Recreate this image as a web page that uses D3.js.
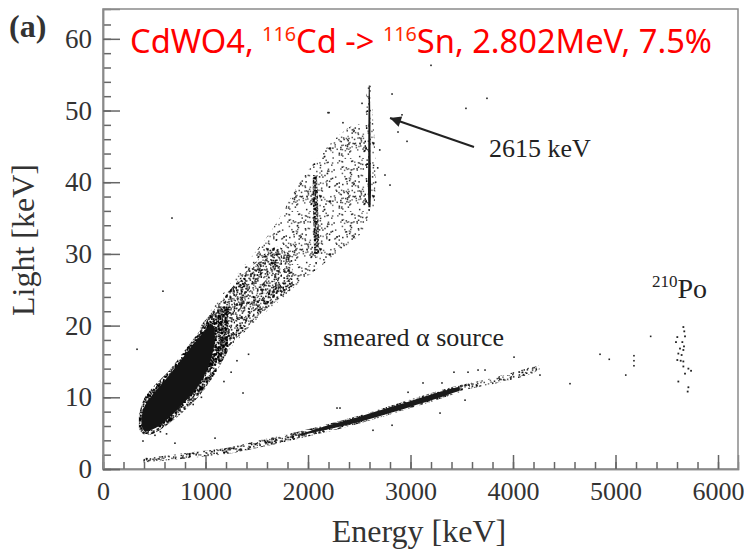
<!DOCTYPE html>
<html><head><meta charset="utf-8">
<script src="https://cdn.jsdelivr.net/npm/d3@7"></script>
<style>body{margin:0;background:#fff}svg{display:block}</style>
</head><body>
<svg id="c" width="744" height="552"></svg>
<script>
// ---------------- data ----------------
const xMajorTicks = [0, 1000, 2000, 3000, 4000, 5000, 6000];
const yMajorTicks = [0, 10, 20, 30, 40, 50, 60];

// gamma/beta band: solid core
const coreE  = [375, 410, 480, 600, 750, 900, 1000, 1060, 1090];
const coreLo = [6.0, 5.3, 5.5, 6.6, 8.7, 11.0, 13.4, 15.6, 17.5];
const coreHi = [7.2, 8.9, 10.3, 12.3, 15.0, 17.7, 19.4, 20.2, 19.6];
// halo around core
const haloCE  = [350, 400, 500, 650, 800, 950, 1100, 1220];
const haloCLo = [5.6, 4.8, 5.0, 6.4, 8.2, 10.4, 13.4, 16.5];
const haloCHi = [7.4, 9.8, 11.6, 13.8, 16.6, 19.4, 22.0, 22.5];
// gamma band: medium density part
const medE  = [950, 1100, 1300, 1500, 1700, 1850];
const medLo = [12.5, 15.0, 18.2, 21.2, 23.5, 25.3];
const medHi = [20.0, 22.5, 26.0, 29.0, 31.0, 29.5];
// gamma band: sparse envelope
const bandE  = [850, 1000, 1100, 1300, 1500, 1700, 1900, 2100, 2300, 2450, 2580];
const bandLo = [11.5, 13.0, 14.5, 17.8, 20.8, 23.2, 25.8, 28.0, 30.3, 32.0, 33.5];
const bandHi = [17.0, 21.0, 23.0, 27.0, 30.5, 34.5, 39.5, 43.5, 46.5, 48.0, 48.0];
// 2103 keV stripe
const stripeL  = [30, 33, 36, 39, 41];
const stripeE0 = [2060, 2055, 2050, 2045, 2050];
const stripeE1 = [2110, 2105, 2100, 2095, 2085];
// 2615 keV line
const lineL  = [36.5, 39, 42, 45, 48, 51, 53.5];
const lineE0 = [2590, 2585, 2587, 2588, 2589, 2591, 2593];
const lineE1 = [2610, 2615, 2612, 2610, 2609, 2606, 2602];
const haloL  = [36, 42, 48, 54];
const haloE0 = [2560, 2555, 2560, 2575];
const haloE1 = [2650, 2660, 2640, 2610];
// smeared alpha source band
const alphaE  = [390, 600, 900, 1240, 1560, 1900, 2215, 2500, 2800, 3000, 3250, 3480];
const alphaLo = [0.9, 1.15, 1.6, 2.15, 3.1, 4.2, 5.25, 6.35, 7.6, 8.5, 9.6, 10.7];
const alphaHi = [1.5, 1.85, 2.4, 3.05, 4.1, 5.2, 6.35, 7.45, 8.8, 9.7, 10.8, 11.7];
const alphaDarkE  = [1900, 2200, 2500, 2800, 3000, 3250, 3480];
const alphaDarkLo = [4.6, 5.55, 6.55, 7.8, 8.7, 9.8, 10.9];
const alphaDarkHi = [4.75, 6.1, 7.3, 8.6, 9.5, 10.6, 11.5];
const tailE  = [3480, 3650, 3850, 4050, 4200, 4260];
const tailLo = [10.9, 11.4, 12.0, 12.7, 13.4, 13.9];
const tailHi = [11.7, 12.2, 12.9, 13.7, 14.3, 14.4];
// isolated events
const outE = [673, 585, 332, 1307, 1366, 478, 507, 390, 702, 1093, 3200, 2820, 3746, 3541, 2917, 2205, 2878, 2966, 2751, 2800, 2195, 2527, 2341,
  4849, 4939, 5180, 5180, 5180, 5100, 4556, 5343, 4010, 3424, 3561, 3659, 3727, 3122, 2976, 3307, 2312, 2283, 2820, 3288, 3532, 2634, 4263,
  1250, 1420, 1180, 880, 960, 620, 560, 2680, 2700, 2660];
const outL = [35.0, 24.8, 16.7, 15.1, 10.6, 5.0, 4.7, 3.9, 3.6, 4.3, 56.3, 52.3, 51.7, 50.3, 49.4, 49.7, 47.0, 45.7, 41.0, 39.6, 49.7, 51.0, 48.3,
  16.0, 15.3, 15.8, 15.1, 14.4, 13.1, 11.9, 18.5, 15.6, 13.5, 13.5, 13.8, 13.8, 12.0, 10.7, 12.0, 8.5, 8.5, 6.1, 7.8, 9.6, 5.4, 13.1,
  13.5, 16.0, 12.2, 9.0, 10.0, 4.9, 5.2, 42.0, 44.5, 40.0];
// 210Po events
const poE = [5662, 5671, 5603, 5678, 5590, 5652, 5668, 5629, 5662, 5613, 5645, 5603, 5636, 5662, 5662, 5711, 5737, 5678, 5613, 5711, 5704];
const poL = [19.8, 19.2, 18.4, 18.5, 17.7, 17.7, 17.1, 16.8, 16.6, 16.1, 15.9, 15.2, 15.1, 15.0, 14.3, 14.0, 13.7, 13.3, 12.2, 11.4, 10.8];

// ---------------- drawing ----------------
const svg = d3.select("#c");
const W = 744, H = 552;
const m = {l: 103, r: 738, t: 9, b: 469};
const x = d3.scaleLinear([0, 6195], [m.l, m.r]);
const y = d3.scaleLinear([0, 64.16], [m.b, m.t]);

const defs = svg.append("defs");
// deterministic speckle texture used to render the dense point clouds as fills
function speck(i, s) { const v = Math.sin(i * 12.9898 + s * 78.233) * 43758.5453; return v - Math.floor(v); }
function pattern(id, tile, n, s, op, seed) {
  const p = defs.append("pattern").attr("id", id).attr("patternUnits", "userSpaceOnUse")
    .attr("width", tile).attr("height", tile);
  for (let i = 1; i <= n; i++) {
    p.append("rect").attr("x", speck(i, seed) * tile).attr("y", speck(i, seed + 0.37) * tile)
      .attr("width", s).attr("height", s).attr("fill", "#000").attr("opacity", op * (0.6 + 0.4 * speck(i, seed + 0.71)));
  }
}
pattern("sparse", 53, 230, 1.5, 0.85, 1.3);
pattern("medium", 47, 420, 1.5, 0.9, 2.7);
pattern("dense", 31, 420, 1.6, 0.95, 4.1);
pattern("alphaP", 43, 520, 1.5, 0.9, 5.9);
defs.append("marker").attr("id", "arr").attr("viewBox", "0 0 10 10").attr("refX", 10).attr("refY", 5)
  .attr("markerUnits", "userSpaceOnUse").attr("markerWidth", 15).attr("markerHeight", 11).attr("orient", "auto")
  .append("path").attr("d", "M0,0 L10,5 L0,10 Z").attr("fill", "#222");

svg.append("rect").attr("width", W).attr("height", H).attr("fill", "#fff");

const clip = defs.append("clipPath").attr("id", "pc");
clip.append("rect").attr("x", m.l).attr("y", m.t).attr("width", m.r - m.l).attr("height", m.b - m.t);
const g = svg.append("g").attr("clip-path", "url(#pc)");

function bandArea(E, lo, hi) {
  return d3.area().x((d, i) => x(E[i])).y0((d, i) => y(lo[i])).y1((d, i) => y(hi[i]))
    .curve(d3.curveCatmullRom)(E);
}
function vArea(L, e0, e1) {
  return d3.area().y((d, i) => y(L[i])).x0((d, i) => x(e0[i])).x1((d, i) => x(e1[i]))
    .curve(d3.curveCatmullRom)(L);
}
g.append("path").attr("d", bandArea(bandE, bandLo, bandHi)).attr("fill", "url(#sparse)");
g.append("path").attr("d", bandArea(medE, medLo, medHi)).attr("fill", "url(#medium)");
g.append("path").attr("d", bandArea(haloCE, haloCLo, haloCHi)).attr("fill", "url(#dense)");
g.append("path").attr("d", bandArea(coreE, coreLo, coreHi)).attr("fill", "#141414");
g.append("path").attr("d", vArea(stripeL, stripeE0, stripeE1)).attr("fill", "url(#dense)");
g.append("path").attr("d", vArea(haloL, haloE0, haloE1)).attr("fill", "url(#sparse)");
g.append("path").attr("d", vArea(lineL, lineE0, lineE1)).attr("fill", "#1a1a1a");
g.append("path").attr("d", bandArea(alphaE, alphaLo, alphaHi)).attr("fill", "url(#alphaP)");
g.append("path").attr("d", bandArea(alphaDarkE, alphaDarkLo, alphaDarkHi)).attr("fill", "#1a1a1a");
g.append("path").attr("d", bandArea(tailE, tailLo, tailHi)).attr("fill", "url(#medium)");

g.selectAll(".out").data(outE).join("rect").attr("class", "out")
  .attr("x", (d) => x(d) - 0.8).attr("y", (d, i) => y(outL[i]) - 0.8)
  .attr("width", 1.6).attr("height", 1.6).attr("fill", "#222");
g.selectAll(".po").data(poE).join("rect").attr("class", "po")
  .attr("x", (d) => x(d) - 0.9).attr("y", (d, i) => y(poL[i]) - 0.9)
  .attr("width", 1.8).attr("height", 1.8).attr("fill", "#222");

// frame
svg.append("rect").attr("x", m.l).attr("y", m.t).attr("width", m.r - m.l).attr("height", m.b - m.t)
  .attr("fill", "none").attr("stroke", "#8a8a8a").attr("stroke-width", 1.5);

// axes
const axCol = "#666";
const xMinor = d3.range(0, 6200, 200);
const yMinor = d3.range(0, 64, 2);
const gx = svg.append("g").attr("transform", `translate(0,${m.b})`);
gx.call(d3.axisBottom(x).tickValues(xMinor).tickSize(-7).tickFormat(""));
gx.append("g").attr("class", "xl").call(d3.axisBottom(x).tickValues(xMajorTicks).tickSize(-14).tickPadding(13).tickFormat(d3.format("d")));
const gy = svg.append("g").attr("transform", `translate(${m.l},0)`);
gy.call(d3.axisLeft(y).tickValues(yMinor).tickSize(-8).tickFormat(""));
gy.append("g").attr("class", "yl").call(d3.axisLeft(y).tickValues(yMajorTicks).tickSize(-17).tickPadding(11).tickFormat(d3.format("d")));
svg.selectAll(".domain").attr("stroke", "#8a8a8a").attr("stroke-width", 1.5);
svg.selectAll(".tick line").attr("stroke", axCol).attr("stroke-width", 1.5);
svg.selectAll(".tick text").attr("font-family", "'Liberation Serif', serif").attr("fill", "#333");
svg.selectAll(".xl .tick text").attr("font-size", 26);
svg.selectAll(".yl .tick text").attr("font-size", 27);

// axis titles
svg.append("text").attr("x", 419).attr("y", 542).attr("text-anchor", "middle")
  .attr("font-family", "'Liberation Serif', serif").attr("font-size", 32).attr("fill", "#333").text("Energy [keV]");
svg.append("text").attr("transform", "translate(34,240) rotate(-90)").attr("text-anchor", "middle")
  .attr("font-family", "'Liberation Serif', serif").attr("font-size", 32).attr("fill", "#333").text("Light [keV]");

// panel label
svg.append("text").attr("x", 9).attr("y", 37).attr("font-family", "'Liberation Serif', serif")
  .attr("font-weight", "bold").attr("font-size", 32).attr("fill", "#333").text("(a)");

// title
const t = svg.append("text").attr("x", 130).attr("y", 53).attr("font-family", "'Noto Sans', sans-serif")
  .attr("font-size", 33).attr("fill", "#ff0000").attr("textLength", 582).attr("lengthAdjust", "spacingAndGlyphs");
t.append("tspan").text("CdWO4, ");
t.append("tspan").attr("font-size", 20).attr("dy", -12).attr("fill", "#ff2a00").text("116");
t.append("tspan").attr("dy", 12).text("Cd -> ");
t.append("tspan").attr("font-size", 20).attr("dy", -12).attr("fill", "#ff2a00").text("116");
t.append("tspan").attr("dy", 12).text("Sn, 2.802MeV, 7.5%");

// annotations
svg.append("line").attr("x1", 474).attr("y1", 147).attr("x2", 390).attr("y2", 118)
  .attr("stroke", "#222").attr("stroke-width", 2).attr("marker-end", "url(#arr)");
svg.append("text").attr("x", 489).attr("y", 157).attr("font-family", "'Liberation Serif', serif")
  .attr("font-size", 26).attr("fill", "#222").text("2615 keV");
svg.append("text").attr("x", 323).attr("y", 346).attr("font-family", "'Liberation Serif', serif")
  .attr("font-size", 26).attr("fill", "#222").text("smeared α source");
const po = svg.append("text").attr("x", 652).attr("y", 298).attr("font-family", "'Liberation Serif', serif")
  .attr("font-size", 28).attr("fill", "#222");
po.append("tspan").attr("font-size", 17).attr("dy", -11).text("210");
po.append("tspan").attr("dy", 11).text("Po");
</script>
</body></html>
